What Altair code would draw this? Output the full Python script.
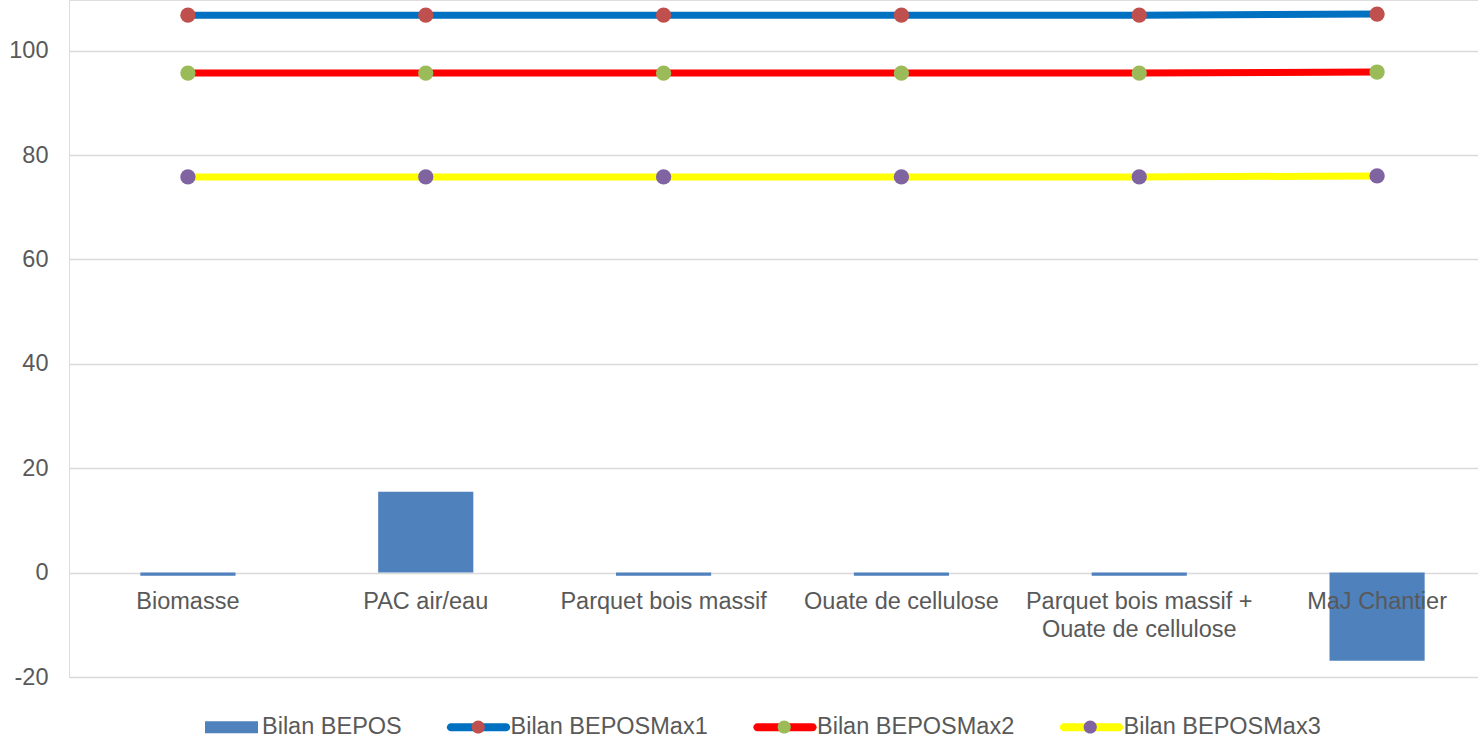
import altair as alt
import pandas as pd

# Scenario names (category axis)
categories = [
    "Biomasse",
    "PAC air/eau",
    "Parquet bois massif",
    "Ouate de cellulose",
    "Parquet bois massif + Ouate de cellulose",
    "MaJ Chantier",
]

series_names = ["Bilan BEPOS", "Bilan BEPOSMax1", "Bilan BEPOSMax2", "Bilan BEPOSMax3"]

# Series values
bilan_bepos = [-0.6, 15.5, -0.6, -0.6, -0.6, -16.9]
bilan_max1 = [106.8, 106.8, 106.8, 106.8, 106.8, 107.0]
bilan_max2 = [95.7, 95.7, 95.7, 95.7, 95.7, 95.9]
bilan_max3 = [75.8, 75.8, 75.8, 75.8, 75.8, 76.0]

y_ticks = [-20, 0, 20, 40, 60, 80, 100]

# Styling
bar_color = "#4F81BD"
line_colors = ["#0070C0", "#FF0000", "#FFFF00"]
marker_colors = ["#C0504D", "#9BBB59", "#8064A2"]
text_color = "#595959"
font = "Liberation Sans"
font_size = 23.5

Y_MIN, Y_MAX = -20, 109.7
W, H = 1409, 677
X_RANGE = 1427
PAD_LEFT = 69

rows = []
for name, vals in zip(series_names, [bilan_bepos, bilan_max1, bilan_max2, bilan_max3]):
    for c, v in zip(categories, vals):
        rows.append({"cat": c, "serie": name, "value": v})
df = pd.DataFrame(rows)

zero_px = H * Y_MAX / (Y_MAX - Y_MIN)

x_scale = alt.Scale(domain=categories, range=[0, X_RANGE], paddingInner=0.6, paddingOuter=0.3)
y_scale = alt.Scale(domain=[Y_MIN, Y_MAX], nice=False, zero=False)

label_expr = (
    "datum.value == 'Parquet bois massif + Ouate de cellulose' ? "
    "['Parquet bois massif +', 'Ouate de cellulose'] : datum.label"
)

x_enc = alt.X(
    "cat:N",
    sort=categories,
    scale=x_scale,
    axis=alt.Axis(
        title=None,
        orient="bottom",
        offset=-(H - zero_px),
        labelAngle=0,
        labelFontSize=font_size,
        labelFont=font,
        labelColor=text_color,
        labelPadding=17,
        labelLineHeight=28,
        labelExpr=label_expr,
        labelOverlap=False,
        labelLimit=600,
        domain=False,
        ticks=False,
        grid=False,
        zindex=1,
    ),
)
y_enc = alt.Y(
    "value:Q",
    scale=y_scale,
    axis=alt.Axis(
        title=None,
        values=y_ticks,
        labelExpr="'' + datum.value",
        grid=True,
        gridColor="#D9D9D9",
        gridWidth=1.5,
        domain=False,
        ticks=False,
        tickSize=0,
        labelFontSize=font_size,
        labelFont=font,
        labelColor=text_color,
        labelPadding=21,
    ),
)

base = alt.Chart(df)

bars = base.mark_bar(color=bar_color).encode(x=x_enc, y=y_enc).transform_filter(
    alt.datum.serie == series_names[0]
)

layers = [bars]
for name, lc, mc in zip(series_names[1:], line_colors, marker_colors):
    sub = base.transform_filter(alt.datum.serie == name)
    layers.append(sub.mark_line(color=lc, strokeWidth=7).encode(x=x_enc, y=y_enc))
    layers.append(sub.mark_point(filled=True, color=mc, opacity=1, size=234).encode(x=x_enc, y=y_enc))

# Legend symbols: custom paths in the [-1, 1] square, drawn 60 px wide
SYM = 60
rect_path = "M-0.833,-0.2H0.933V0.2H-0.833Z"
line_path = (
    "M-0.92,-0.135H0.92A0.135,0.135 0 0,1 0.92,0.135"
    "H-0.92A0.135,0.135 0 0,1 -0.92,-0.135Z"
)
circle_path = "M-0.22,0A0.22,0.22 0 1,0 0.22,0A0.22,0.22 0 1,0 -0.22,0Z"

LEGEND_LEFT = 200          # left edge of the first legend symbol
LEGEND_CENTER_Y = 727
LABEL_OFFSET = 2
COL_PAD = 44.5
# rendered label widths, in em
label_em = [6.03, 8.49, 8.49, 8.49]

entry_left = [LEGEND_LEFT]
for em in label_em[:-1]:
    entry_left.append(entry_left[-1] + SYM + LABEL_OFFSET + em * font_size + COL_PAD)

legend_df = pd.DataFrame({"serie": series_names, "cat": categories[0], "value": 0.0})

common_legend = dict(
    title=None,
    orient="none",
    legendY=LEGEND_CENTER_Y - SYM / 2,
    direction="horizontal",
    symbolSize=SYM * SYM,
    symbolStrokeWidth=0,
    symbolOpacity=1,
    labelFontSize=font_size,
    labelFont=font,
    labelColor=text_color,
    labelOffset=LABEL_OFFSET,
    labelLimit=600,
    padding=0,
)

key_lines = alt.Chart(legend_df).mark_point(filled=True, opacity=0).encode(
    x=x_enc,
    y=y_enc,
    color=alt.Color(
        "serie:N",
        scale=alt.Scale(domain=series_names, range=[bar_color] + line_colors),
        legend=alt.Legend(legendX=LEGEND_LEFT - PAD_LEFT, columns=4, columnPadding=COL_PAD, **common_legend),
    ),
    shape=alt.Shape(
        "serie:N",
        scale=alt.Scale(domain=series_names, range=[rect_path, line_path, line_path, line_path]),
        legend=alt.Legend(legendX=LEGEND_LEFT - PAD_LEFT, columns=4, columnPadding=COL_PAD, **common_legend),
    ),
)

# One single-entry legend per line series for its marker dot
key_markers = []
for name, mc, left in zip(series_names[1:], marker_colors, entry_left[1:]):
    mk_df = legend_df[legend_df["serie"] == name]
    lg = alt.Legend(legendX=left - PAD_LEFT, labelExpr="''", **common_legend)
    key_markers.append(
        alt.Chart(mk_df).mark_point(filled=True, opacity=0).encode(
            x=x_enc,
            y=y_enc,
            color=alt.Color("serie:N", scale=alt.Scale(domain=[name], range=[mc]), legend=lg),
            shape=alt.Shape("serie:N", scale=alt.Scale(domain=[name], range=[circle_path]), legend=lg),
        )
    )

chart = (
    alt.layer(*layers, key_lines, *key_markers)
    .resolve_scale(color="independent", shape="independent")
    .properties(
        width=W,
        height=H,
        autosize=alt.AutoSizeParams(type="none"),
        padding={"left": PAD_LEFT, "right": 0, "top": 0, "bottom": 63},
        background="white",
    )
    .configure_view(stroke=None)
    .configure(font=font)
)

chart.save("out.html", embed_options={"renderer": "svg", "actions": False})
